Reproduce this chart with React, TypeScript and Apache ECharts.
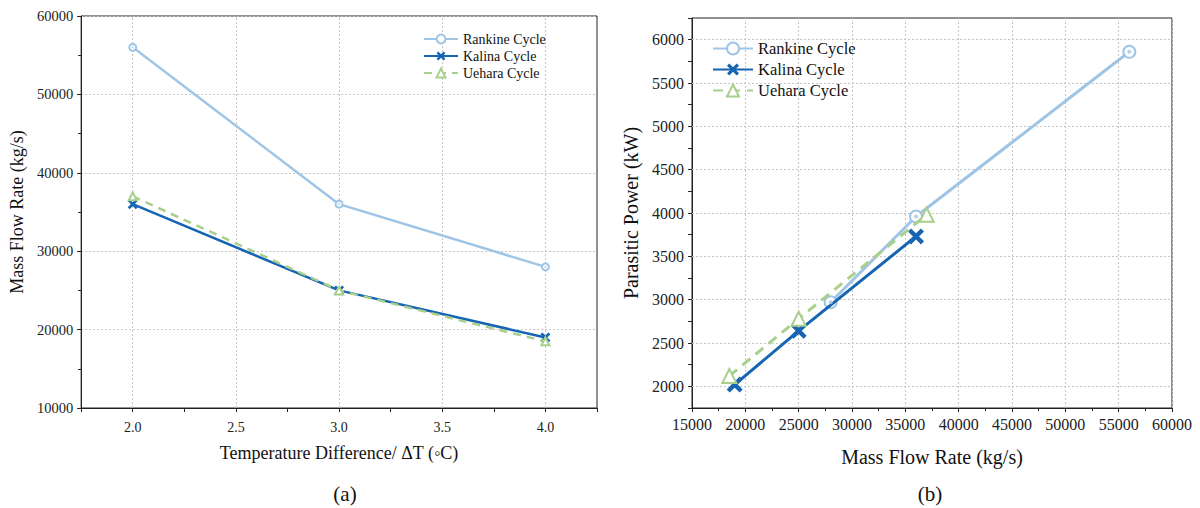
import React, { useEffect, useRef } from "react";
import * as echarts from "echarts";

// ---- data (a) ----
const deltaT = [2.0, 3.0, 4.0];
const flowRankine = [56000, 36000, 28000];
const flowKalina = [36000, 25000, 19000];
const flowUehara = [37000, 25000, 18500];
const xTicksA = [2.0, 2.5, 3.0, 3.5, 4.0];

// ---- data (b) ----
const massRankine = [28000, 36000, 56000];
const powerRankine = [2970, 3960, 5860];
const massKalina = [19000, 25000, 36000];
const powerKalina = [2020, 2640, 3730];
const massUehara = [18500, 25000, 37000];
const powerUehara = [2120, 2780, 3980];
const yTicksB = [2000, 2500, 3000, 3500, 4000, 4500, 5000, 5500, 6000];

const names = ["Rankine Cycle", "Kalina Cycle", "Uehara Cycle"];
const C_RANKINE = "#9ec5e5";
const C_KALINA = "#1565b2";
const C_UEHARA = "#a8d08c";
const FONT = "'Times New Roman', 'Liberation Serif', serif";
const X_SYMBOL =
  "path://M0,1.9 L1.9,0 L5,3.1 L8.1,0 L10,1.9 L6.9,5 L10,8.1 L8.1,10 L5,6.9 L1.9,10 L0,8.1 L3.1,5 Z";
const GRID_LINE = { color: "#c4c4c4", type: [2, 2] as any, width: 1 };

function zip(a: number[], b: number[]) {
  return a.map((v, i) => [v, b[i]]);
}

function buildA(): any {
  return {
    animation: false,
    textStyle: { fontFamily: FONT },
    title: {
      text: "(a)",
      left: 340,
      top: 478,
      textAlign: "center",
      textStyle: { fontFamily: FONT, fontSize: 21, fontWeight: "normal", color: "#111" },
    },
    grid: { left: 77, top: 16, width: 521, height: 392, show: true, borderColor: "#222", borderWidth: 1 },
    legend: {
      left: 418,
      top: 27,
      orient: "vertical",
      itemWidth: 34,
      itemHeight: 11,
      itemGap: 3,
      data: names,
      textStyle: { fontFamily: FONT, fontSize: 14, color: "#111" },
    },
    xAxis: {
      type: "value",
      min: 1.75,
      max: 4.25,
      interval: 0.25,
      name: "Temperature Difference/ \u0394T (\u25E6C)",
      nameLocation: "middle",
      nameGap: 36,
      nameTextStyle: { fontFamily: FONT, fontSize: 18, color: "#111" },
      axisLine: { lineStyle: { color: "#222" } },
      axisTick: { length: 4, lineStyle: { color: "#222" } },
      axisLabel: {
        fontFamily: FONT,
        fontSize: 14,
        color: "#222",
        margin: 12,
        formatter: (v: number) => (Math.abs(v * 2 - Math.round(v * 2)) < 1e-6 ? v.toFixed(1) : ""),
      },
      splitLine: { show: false },
    },
    yAxis: {
      type: "value",
      min: 10000,
      max: 60000,
      interval: 10000,
      name: "Mass Flow Rate (kg/s)",
      nameLocation: "middle",
      nameGap: 50,
      nameTextStyle: { fontFamily: FONT, fontSize: 18, color: "#111" },
      axisLine: { show: true, lineStyle: { color: "#222" } },
      axisTick: { show: true, length: 4, lineStyle: { color: "#222" } },
      minorTick: { show: true, splitNumber: 2, length: 3, lineStyle: { color: "#222" } },
      axisLabel: { fontFamily: FONT, fontSize: 14.5, color: "#222", margin: 8, formatter: (v: number) => String(v) },
      splitLine: { show: true, lineStyle: GRID_LINE },
    },
    series: [
      {
        name: names[0],
        type: "line",
        data: zip(deltaT, flowRankine),
        symbol: "emptyCircle",
        symbolSize: 7,
        lineStyle: { color: C_RANKINE, width: 2.5 },
        itemStyle: { color: C_RANKINE, borderWidth: 1.3 },
        z: 3,
        markLine: {
          silent: true,
          symbol: "none",
          label: { show: false },
          lineStyle: GRID_LINE,
          data: xTicksA.map((v) => ({ xAxis: v })),
          z: 1,
        },
      },
      {
        name: names[1],
        type: "line",
        data: zip(deltaT, flowKalina),
        symbol: X_SYMBOL,
        symbolSize: 10,
        lineStyle: { color: C_KALINA, width: 2.5 },
        itemStyle: { color: C_KALINA },
        z: 4,
      },
      {
        name: names[2],
        type: "line",
        data: zip(deltaT, flowUehara),
        symbol: "emptyTriangle",
        symbolSize: 8,
        lineStyle: { color: C_UEHARA, width: 2.5, type: [8, 6] },
        itemStyle: { color: C_UEHARA, borderWidth: 1.3 },
        z: 5,
      },
      {
        name: "dotsA",
        type: "scatter",
        data: zip(deltaT, flowRankine),
        symbol: "circle",
        symbolSize: 2.2,
        itemStyle: { color: C_RANKINE },
        silent: true,
        z: 6,
      },
    ],
  };
}

function buildB(): any {
  return {
    animation: false,
    textStyle: { fontFamily: FONT },
    title: {
      text: "(b)",
      left: 325,
      top: 478,
      textAlign: "center",
      textStyle: { fontFamily: FONT, fontSize: 21, fontWeight: "normal", color: "#111" },
    },
    grid: { left: 92, top: 18, width: 480, height: 390, show: true, borderColor: "#222", borderWidth: 1 },
    legend: {
      left: 107,
      top: 35,
      orient: "vertical",
      itemWidth: 40,
      itemHeight: 15,
      itemGap: 4,
      data: names,
      textStyle: { fontFamily: FONT, fontSize: 16.5, color: "#111" },
    },
    xAxis: {
      type: "value",
      min: 15000,
      max: 60000,
      interval: 5000,
      name: "Mass Flow Rate (kg/s)",
      nameLocation: "middle",
      nameGap: 39,
      nameTextStyle: { fontFamily: FONT, fontSize: 20, color: "#111" },
      axisLine: { lineStyle: { color: "#222" } },
      axisTick: { length: 4, lineStyle: { color: "#222" } },
      minorTick: { show: true, splitNumber: 2, length: 3, lineStyle: { color: "#222" } },
      axisLabel: { fontFamily: FONT, fontSize: 16, color: "#222", margin: 8, formatter: (v: number) => String(v) },
      splitLine: { show: true, lineStyle: GRID_LINE },
    },
    yAxis: {
      type: "value",
      min: 1750,
      max: 6250,
      interval: 250,
      name: "Parasitic Power (kW)",
      nameLocation: "middle",
      nameGap: 50,
      nameTextStyle: { fontFamily: FONT, fontSize: 20, color: "#111" },
      axisLine: { show: true, lineStyle: { color: "#222" } },
      axisTick: { show: true, length: 4, lineStyle: { color: "#222" } },
      axisLabel: {
        fontFamily: FONT,
        fontSize: 16,
        color: "#222",
        margin: 8,
        formatter: (v: number) => (v % 500 === 0 ? String(v) : ""),
      },
      splitLine: { show: false },
    },
    series: [
      {
        name: names[0],
        type: "line",
        data: zip(massRankine, powerRankine),
        symbol: "emptyCircle",
        symbolSize: 12,
        lineStyle: { color: C_RANKINE, width: 3 },
        itemStyle: { color: C_RANKINE, borderWidth: 2 },
        z: 3,
        markLine: {
          silent: true,
          symbol: "none",
          label: { show: false },
          lineStyle: GRID_LINE,
          data: yTicksB.map((v) => ({ yAxis: v })),
          z: 1,
        },
      },
      {
        name: names[1],
        type: "line",
        data: zip(massKalina, powerKalina),
        symbol: X_SYMBOL,
        symbolSize: 16,
        lineStyle: { color: C_KALINA, width: 3 },
        itemStyle: { color: C_KALINA },
        z: 4,
      },
      {
        name: names[2],
        type: "line",
        data: zip(massUehara, powerUehara),
        symbol: "emptyTriangle",
        symbolSize: 14,
        lineStyle: { color: C_UEHARA, width: 3, type: [10, 7] },
        itemStyle: { color: C_UEHARA, borderWidth: 2 },
        z: 5,
      },
      {
        name: "dotsB",
        type: "scatter",
        data: zip(massRankine, powerRankine),
        symbol: "circle",
        symbolSize: 4,
        itemStyle: { color: C_RANKINE },
        silent: true,
        z: 6,
      },
    ],
  };
}

function Chart({ build }: { build: () => any }) {
  const ref = useRef<HTMLDivElement>(null);
  useEffect(() => {
    if (!ref.current) return;
    const chart = echarts.init(ref.current, undefined, { renderer: "svg" });
    chart.setOption(build());
    return () => chart.dispose();
  }, [build]);
  return <div ref={ref} style={{ width: 600, height: 508 }} />;
}

export default function App() {
  useEffect(() => {
    document.body.style.margin = "0";
  }, []);
  return (
    <div style={{ display: "flex", width: 1200, height: 508, background: "#fff" }}>
      <Chart build={buildA} />
      <Chart build={buildB} />
    </div>
  );
}
